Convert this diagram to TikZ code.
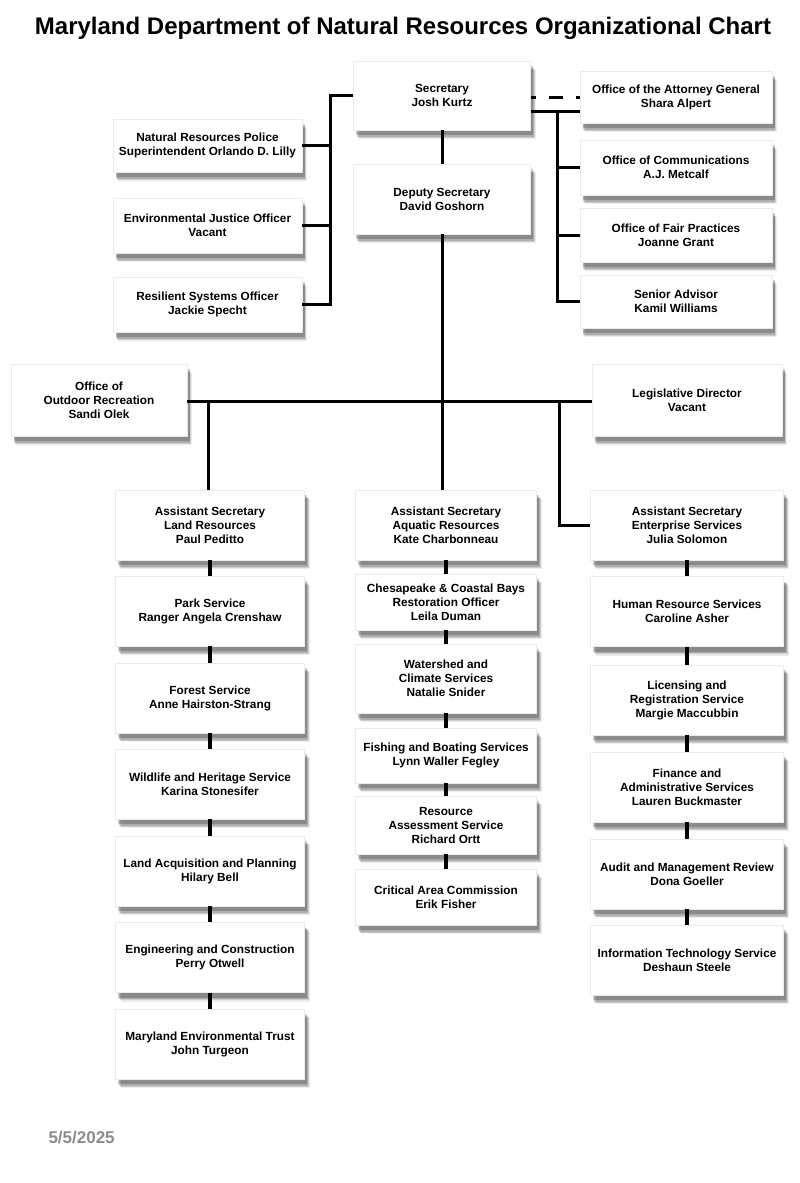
\documentclass[tikz,border=0pt]{standalone}
\usepackage{fontspec}
\setmainfont{Liberation Sans}
\usetikzlibrary{shadows}
\tikzset{
  orgbox/.style={rectangle, fill=white, draw=black!8, line width=.4pt, align=center, inner sep=0pt,
    font=\fontsize{11.8}{14}\selectfont\bfseries,
    drop shadow={shadow xshift=5pt, shadow yshift=-9pt, opacity=.08, fill=black},
    drop shadow={shadow xshift=4.2pt, shadow yshift=-7.8pt, opacity=.12, fill=black},
    drop shadow={shadow xshift=3.4pt, shadow yshift=-6.6pt, opacity=.16, fill=black},
    drop shadow={shadow xshift=2.6pt, shadow yshift=-5.4pt, opacity=.2, fill=black}},
  leftcol/.style={orgbox, minimum width=189pt, minimum height=70pt},
  midcol/.style={orgbox, minimum width=181pt},
  rightcol/.style={orgbox, minimum width=193pt, minimum height=70pt},
  link/.style={line width=3pt},
  short/.style={line width=3.5pt},
  dashlink/.style={line width=3pt, dash pattern=on 5pt off 13pt on 14pt off 13pt}
}
\begin{document}
\begin{tikzpicture}[x=1pt,y=-1pt]
\useasboundingbox (0,0) rectangle (800,1183);
\node[font=\fontsize{24}{28}\selectfont\bfseries] (title) at (403,28) {Maryland Department of Natural Resources Organizational Chart};
% top level
\node[orgbox, minimum width=177pt, minimum height=69pt] (sec) at (442,95.5) {Secretary\\Josh Kurtz};
\node[orgbox, minimum width=177pt, minimum height=70pt] (dep) at (442,199) {Deputy Secretary\\David Goshorn};
\node[orgbox, minimum width=192pt, minimum height=52pt] (ag) at (676,97) {Office of the Attorney General\\Shara Alpert};
\node[orgbox, minimum width=192pt, minimum height=55pt] (comm) at (676,167.5) {Office of Communications\\A.J. Metcalf};
\node[orgbox, minimum width=192pt, minimum height=54pt] (fair) at (676,235) {Office of Fair Practices\\Joanne Grant};
\node[orgbox, minimum width=192pt, minimum height=53pt] (senior) at (676,301.5) {Senior Advisor\\Kamil Williams};
\node[orgbox, minimum width=189pt, minimum height=53pt] (nrp) at (207.5,145.5) {Natural Resources Police\\Superintendent Orlando D. Lilly};
\node[orgbox, minimum width=189pt, minimum height=55pt] (ej) at (207.5,225.5) {Environmental Justice Officer\\Vacant};
\node[orgbox, minimum width=189pt, minimum height=55pt] (res) at (207.5,304.5) {Resilient Systems Officer\\Jackie Specht};
\node[orgbox, minimum width=176pt, minimum height=72pt] (orec) at (99,400) {Office of\\Outdoor Recreation\\Sandi Olek};
\node[orgbox, minimum width=190pt, minimum height=72pt] (leg) at (687,400) {Legislative Director\\Vacant};
% land resources
\node[leftcol] (land) at (210,525) {Assistant Secretary\\Land Resources\\Paul Peditto};
\node[leftcol] (park) at (210,611) {Park Service\\Ranger Angela Crenshaw};
\node[leftcol] (forest) at (210,698) {Forest Service\\Anne Hairston-Strang};
\node[leftcol] (wild) at (210,784) {Wildlife and Heritage Service\\Karina Stonesifer};
\node[leftcol] (acq) at (210,871) {Land Acquisition and Planning\\Hilary Bell};
\node[leftcol] (eng) at (210,957.5) {Engineering and Construction\\Perry Otwell};
\node[leftcol] (met) at (210,1044) {Maryland Environmental Trust\\John Turgeon};
% aquatic resources
\node[midcol, minimum height=70pt] (aqua) at (446,525) {Assistant Secretary\\Aquatic Resources\\Kate Charbonneau};
\node[midcol, minimum height=56pt] (ches) at (446,602) {Chesapeake \& Coastal Bays\\Restoration Officer\\Leila Duman};
\node[midcol, minimum height=69pt] (water) at (446,678.5) {Watershed and\\Climate Services\\Natalie Snider};
\node[midcol, minimum height=55pt] (fish) at (446,755.5) {Fishing and Boating Services\\Lynn Waller Fegley};
\node[midcol, minimum height=58pt] (resa) at (446,825) {Resource\\Assessment Service\\Richard Ortt};
\node[midcol, minimum height=56pt] (crit) at (446,897) {Critical Area Commission\\Erik Fisher};
% enterprise services
\node[rightcol] (ent) at (687,525) {Assistant Secretary\\Enterprise Services\\Julia Solomon};
\node[rightcol] (hrs) at (687,611.5) {Human Resource Services\\Caroline Asher};
\node[rightcol] (lic) at (687,700) {Licensing and\\Registration Service\\Margie Maccubbin};
\node[rightcol] (fin) at (687,787) {Finance and\\Administrative Services\\Lauren Buckmaster};
\node[rightcol] (aud) at (687,874) {Audit and Management Review\\Dona Goeller};
\node[rightcol] (its) at (687,960) {Information Technology Service\\Deshaun Steele};
\node[anchor=west, text=black!45, font=\fontsize{17}{20}\selectfont\bfseries] (date) at (45,1137) {5/5/2025};
% staff lines
\coordinate (lbus) at (330,96);
\coordinate (rbus) at (557,111);
\draw[link] (sec.west) -| (lbus |- res.east) -- (res.east);
\draw[link] (nrp.east) -- (nrp.east -| lbus);
\draw[link] (ej.east) -- (ej.east -| lbus);
\draw[dashlink] (sec.east |- ag.west) -- (ag.west);
\draw[link] (sec.east |- rbus) -- (ag.west |- rbus);
\draw[link] (rbus) |- (senior.west);
\draw[link] (comm.west -| rbus) -- (comm.west);
\draw[link] (fair.west -| rbus) -- (fair.west);
% line of authority
\coordinate (lbranch) at (208,401);
\coordinate (rbranch) at (559,401);
\draw[link] (sec.south) -- (dep.north);
\draw[link] (dep.south) -- (dep.south |- aqua.north);
\draw[link] (orec.east |- lbranch) -- (leg.west |- lbranch);
\draw[link] (lbranch) -- (lbranch |- land.north);
\draw[link] (rbranch) |- (ent.west);
% columns
\foreach \a/\b in {land/park,park/forest,forest/wild,wild/acq,acq/eng,eng/met,
  aqua/ches,ches/water,water/fish,fish/resa,resa/crit,
  ent/hrs,hrs/lic,lic/fin,fin/aud,aud/its}
  \draw[short] (\a.south) -- (\b.north);
\end{tikzpicture}
\end{document}
